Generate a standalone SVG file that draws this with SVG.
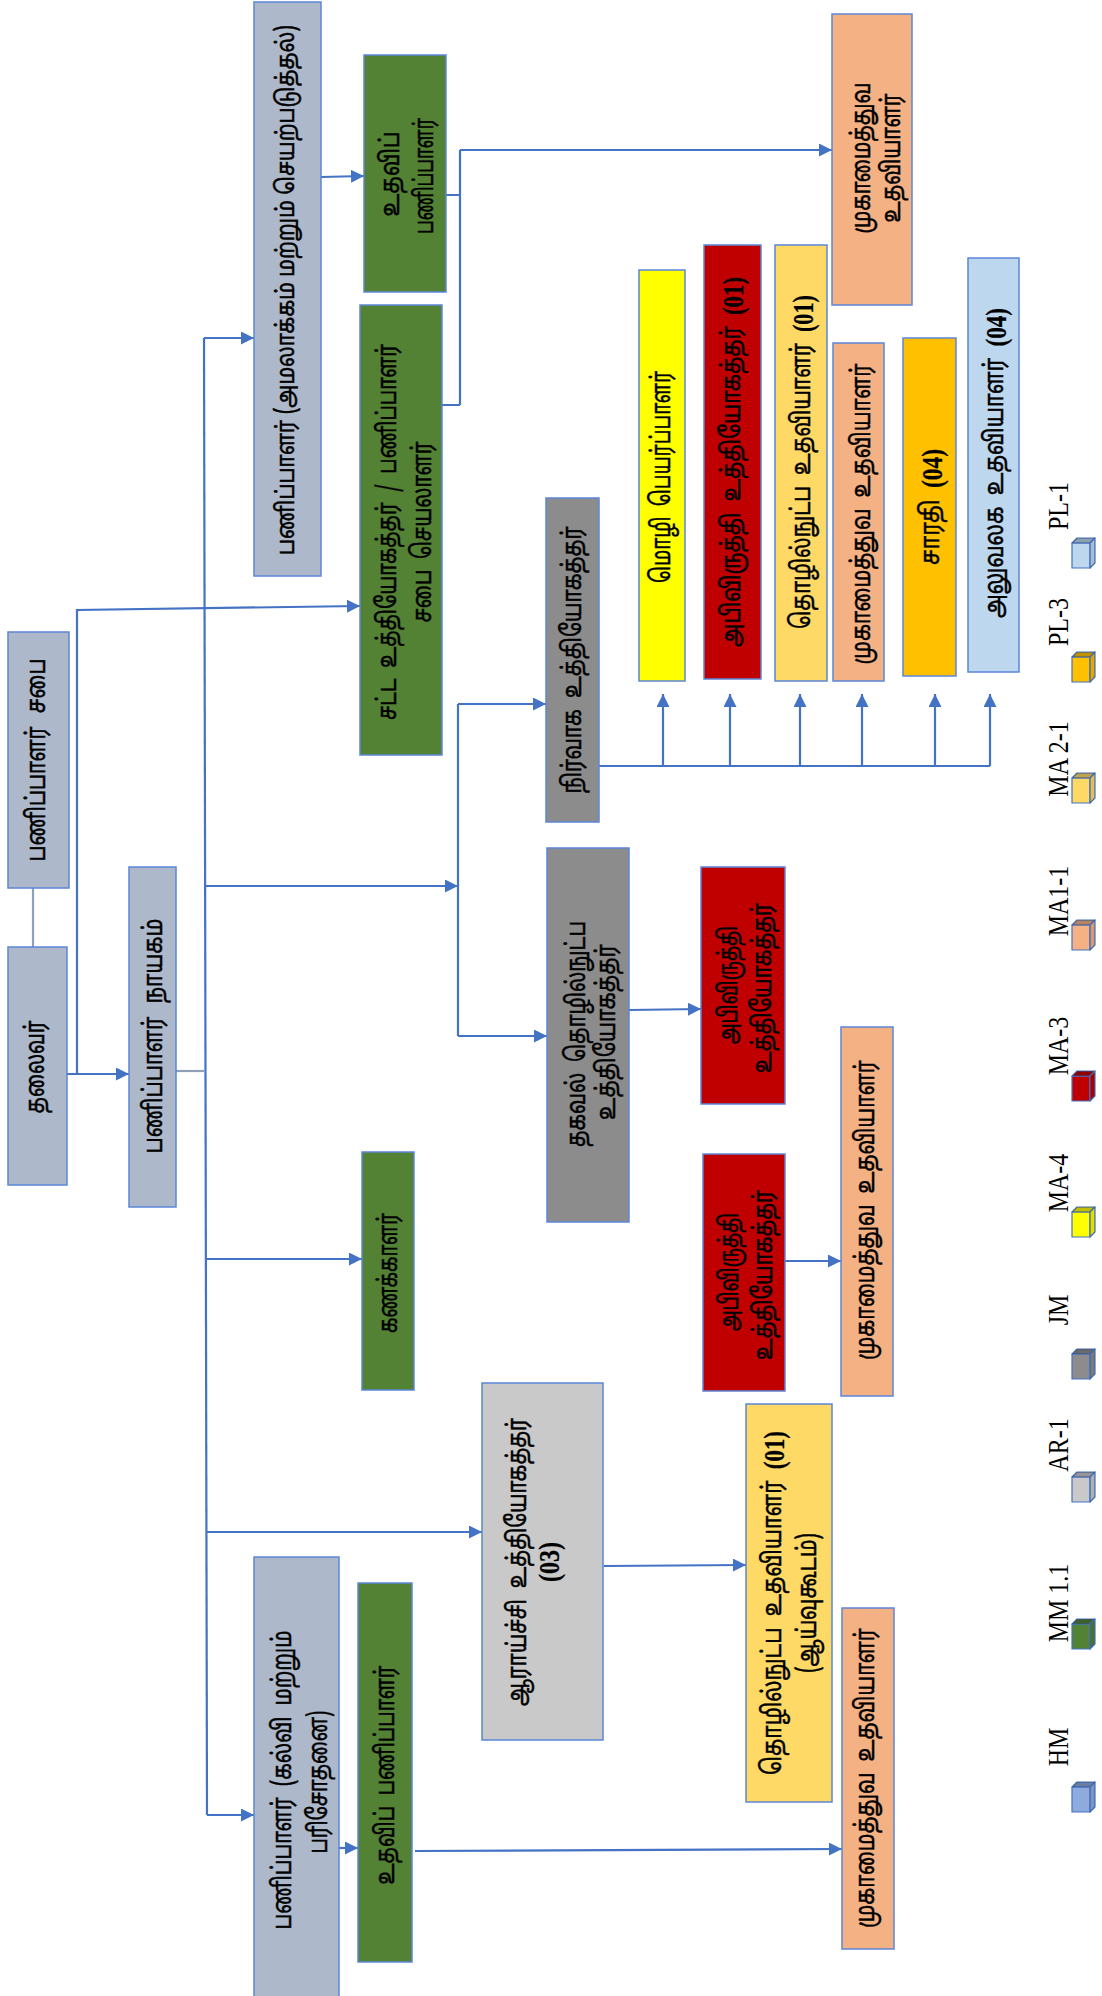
<svg xmlns="http://www.w3.org/2000/svg" width="1102" height="1996" viewBox="0 0 1102 1996">
<defs>
<marker id="ah" markerUnits="userSpaceOnUse" markerWidth="13" markerHeight="13" refX="13" refY="6.5" orient="auto" viewBox="0 0 13 13"><path d="M0,0 L13,6.5 L0,13 z" fill="#4472C4"/></marker>
<g id="cube" stroke="#4472C4" stroke-width="1.2" stroke-linejoin="round">
<rect x="0" y="5" width="18" height="25" fill="currentColor"/>
<path d="M0,5 L5,0 L23,0 L18,5 z" fill="currentColor"/>
<path d="M0,5 L5,0 L23,0 L18,5 z" fill="#000" fill-opacity="0.25" stroke="none"/>
<path d="M18,5 L23,0 L23,25 L18,30 z" fill="currentColor"/>
<path d="M18,5 L23,0 L23,25 L18,30 z" fill="#000" fill-opacity="0.12" stroke="none"/>
</g>
<style>
.box{stroke:#5B87D8;stroke-width:1.5}
.gb{fill:#ADB9CA}.gr{fill:#548235}.dg{fill:#8C8C8C}.lgr{fill:#C9C9C9}.rd{fill:#C00000}.or{fill:#F4B183}.ly{fill:#FFD966}.ye{fill:#FFFF00}.am{fill:#FFC000}.lb{fill:#BDD7EE}
.t{font-family:'Noto Sans Tamil','Latha','Noto Sans',sans-serif;font-size:22px;fill:#000;stroke:#000;stroke-width:0.4px;text-anchor:middle;dominant-baseline:central}
.n{font-family:'Liberation Serif',serif;font-weight:bold;font-size:24px;stroke-width:0.2px}
.c{fill:none;stroke:#4472C4;stroke-width:2.2}
.ca{marker-end:url(#ah)}
.cg{fill:none;stroke:#8EA0BA;stroke-width:2.2}
.leg{font-family:'Liberation Serif',serif;font-size:24px;fill:#000;text-anchor:middle;dominant-baseline:central}
</style>
</defs>
<rect width="1102" height="1996" fill="#fff"/>
<g id="connectors">
<path class="cg" d="M33,888 V947"/>
<path class="cg" d="M176,1071 H204"/>
<path class="c ca" d="M67,1074 H129"/>
<path class="c ca" d="M77,1074 V610 L360,606"/>
<path class="c" d="M204,338 L207,1815"/>
<path class="c ca" d="M204,338 H254"/>
<path class="c ca" d="M205,886 H458"/>
<path class="c" d="M458,704 V1036"/>
<path class="c ca" d="M458,704 H546"/>
<path class="c ca" d="M458,1036 H547"/>
<path class="c ca" d="M205,1259 H362"/>
<path class="c ca" d="M206,1532 H482"/>
<path class="c ca" d="M207,1815 H254"/>
<path class="c ca" d="M339,1848 H358"/>
<path class="c ca" d="M415,1851 L842,1849"/>
<path class="c ca" d="M321,177 L364,176"/>
<path class="c" d="M446,195 H460 M442,405 H460 M460,150 V405"/>
<path class="c ca" d="M460,150 H832"/>
<path class="c ca" d="M629,1010 L701,1009"/>
<path class="c ca" d="M785,1261 H841"/>
<path class="c ca" d="M604,1566 L746,1565"/>
<path class="c" d="M599,766 H990"/>
<path class="c ca" d="M663,766 V694"/>
<path class="c ca" d="M730,766 V694"/>
<path class="c ca" d="M800,766 V694"/>
<path class="c ca" d="M862,766 V694"/>
<path class="c ca" d="M935,766 V694"/>
<path class="c ca" d="M990,766 V694"/>
</g>
<g id="n1"><rect class="box gb" x="8" y="947" width="59" height="238"/><text class="t" transform="translate(37,1067) rotate(-90) scale(1,1.2)" textLength="93" lengthAdjust="spacingAndGlyphs">தலைவர்</text></g>
<g id="n2"><rect class="box gb" x="8" y="632" width="61" height="256"/><text class="t" transform="translate(38,760) rotate(-90) scale(1,1.2)" word-spacing="8" textLength="203" lengthAdjust="spacingAndGlyphs">பணிப்பாளர் சபை</text></g>
<g id="n3"><rect class="box gb" x="129" y="867" width="47" height="340"/><text class="t" transform="translate(155,1036) rotate(-90) scale(1,1.2)" word-spacing="8" textLength="235" lengthAdjust="spacingAndGlyphs">பணிப்பாளர் நாயகம்</text></g>
<g id="n4"><rect class="box gb" x="254" y="2" width="67" height="574"/><text class="t" transform="translate(287,290) rotate(-90) scale(1,1.2)" style="font-size:20.5px" textLength="530" lengthAdjust="spacingAndGlyphs">பணிப்பாளர் (அமலாக்கம் மற்றும் செயற்படுத்தல்)</text></g>
<g id="n5"><rect class="box gr" x="364" y="55" width="82" height="237"/><text class="t" transform="translate(392,174) rotate(-90) scale(1,1.2)" textLength="85" lengthAdjust="spacingAndGlyphs">உதவிப்</text><text class="t" transform="translate(426,176) rotate(-90) scale(1,1.2)" textLength="116" lengthAdjust="spacingAndGlyphs">பணிப்பாளர்</text></g>
<g id="n6"><rect class="box gr" x="360" y="305" width="82" height="450"/><text class="t" transform="translate(389,532) rotate(-90) scale(1,1.2)" word-spacing="6" textLength="376" lengthAdjust="spacingAndGlyphs">சட்ட உத்தியோகத்தர் / பணிப்பாளர்</text><text class="t" transform="translate(424,532) rotate(-90) scale(1,1.2)" word-spacing="6" textLength="181" lengthAdjust="spacingAndGlyphs">சபை செயலாளர்</text></g>
<g id="n7"><rect class="box gr" x="362" y="1152" width="52" height="238"/><text class="t" transform="translate(390,1273) rotate(-90) scale(1,1.2)" textLength="120" lengthAdjust="spacingAndGlyphs">கணக்காளர்</text></g>
<g id="n8"><rect class="box gb" x="254" y="1557" width="85" height="445"/><text class="t" transform="translate(284,1780) rotate(-90) scale(1,1.2)" word-spacing="6" textLength="299" lengthAdjust="spacingAndGlyphs">பணிப்பாளர் (கல்வி மற்றும்</text><text class="t" transform="translate(320,1782) rotate(-90) scale(1,1.2)" textLength="143" lengthAdjust="spacingAndGlyphs">பரிசோதனை)</text></g>
<g id="n9"><rect class="box gr" x="358" y="1583" width="54" height="379"/><text class="t" transform="translate(387,1775) rotate(-90) scale(1,1.2)" word-spacing="6" textLength="219" lengthAdjust="spacingAndGlyphs">உதவிப் பணிப்பாளர்</text></g>
<g id="n10"><rect class="box lgr" x="482" y="1383" width="121" height="357"/><text class="t" transform="translate(519,1562) rotate(-90) scale(1,1.2)" word-spacing="6" textLength="288" lengthAdjust="spacingAndGlyphs">ஆராய்ச்சி உத்தியோகத்தர்</text><text class="t n" transform="translate(549,1562) rotate(-90) scale(1,1.2)">(03)</text></g>
<g id="n11"><rect class="box dg" x="547" y="848" width="82" height="374"/><text class="t" transform="translate(578,1034) rotate(-90) scale(1,1.2)" word-spacing="6" textLength="226" lengthAdjust="spacingAndGlyphs">தகவல் தொழில்நுட்ப</text><text class="t" transform="translate(608,1032) rotate(-90) scale(1,1.2)" textLength="176" lengthAdjust="spacingAndGlyphs">உத்தியோகத்தர்</text></g>
<g id="n12"><rect class="box dg" x="546" y="498" width="53" height="324"/><text class="t" transform="translate(574,660) rotate(-90) scale(1,1.2)" word-spacing="6" textLength="267" lengthAdjust="spacingAndGlyphs">நிர்வாக உத்தியோகத்தர்</text></g>
<g id="n13"><rect class="box rd" x="701" y="867" width="84" height="237"/><text class="t" transform="translate(730,985) rotate(-90) scale(1,1.2)" textLength="118" lengthAdjust="spacingAndGlyphs">அபிவிருத்தி</text><text class="t" transform="translate(764,988) rotate(-90) scale(1,1.2)" textLength="170" lengthAdjust="spacingAndGlyphs">உத்தியோகத்தர்</text></g>
<g id="n14"><rect class="box rd" x="703" y="1154" width="82" height="237"/><text class="t" transform="translate(731,1272) rotate(-90) scale(1,1.2)" textLength="118" lengthAdjust="spacingAndGlyphs">அபிவிருத்தி</text><text class="t" transform="translate(765,1275) rotate(-90) scale(1,1.2)" textLength="170" lengthAdjust="spacingAndGlyphs">உத்தியோகத்தர்</text></g>
<g id="n15"><rect class="box or" x="841" y="1027" width="52" height="369"/><text class="t" transform="translate(867,1210) rotate(-90) scale(1,1.2)" word-spacing="6" textLength="300" lengthAdjust="spacingAndGlyphs">முகாமைத்துவ உதவியாளர்</text></g>
<g id="n16"><rect class="box ly" x="746" y="1404" width="86" height="398"/><text class="t" transform="translate(774,1603) rotate(-90) scale(1,1.2)" word-spacing="6" textLength="344" lengthAdjust="spacingAndGlyphs">தொழில்நுட்ப உதவியாளர் <tspan class="n">(01)</tspan></text><text class="t" transform="translate(809,1603) rotate(-90) scale(1,1.2)" textLength="140" lengthAdjust="spacingAndGlyphs">(ஆய்வுகூடம்)</text></g>
<g id="n17"><rect class="box or" x="842" y="1608" width="52" height="341"/><text class="t" transform="translate(867,1778) rotate(-90) scale(1,1.2)" word-spacing="6" textLength="300" lengthAdjust="spacingAndGlyphs">முகாமைத்துவ உதவியாளர்</text></g>
<g id="n18"><rect class="box ye" x="639" y="270" width="46" height="411"/><text class="t" transform="translate(663,477) rotate(-90) scale(1,1.2)" word-spacing="6" textLength="212" lengthAdjust="spacingAndGlyphs">மொழி பெயர்ப்பாளர்</text></g>
<g id="n19"><rect class="box rd" x="704" y="245" width="57" height="434"/><text class="t" transform="translate(733,462) rotate(-90) scale(1,1.2)" word-spacing="6" textLength="370" lengthAdjust="spacingAndGlyphs">அபிவிருத்தி உத்தியோகத்தர் <tspan class="n">(01)</tspan></text></g>
<g id="n20"><rect class="box ly" x="775" y="245" width="52" height="436"/><text class="t" transform="translate(803,462) rotate(-90) scale(1,1.2)" word-spacing="6" textLength="334" lengthAdjust="spacingAndGlyphs">தொழில்நுட்ப உதவியாளர் <tspan class="n">(01)</tspan></text></g>
<g id="n21"><rect class="box or" x="833" y="343" width="51" height="338"/><text class="t" transform="translate(863,514) rotate(-90) scale(1,1.2)" word-spacing="6" textLength="301" lengthAdjust="spacingAndGlyphs">முகாமைத்துவ உதவியாளர்</text></g>
<g id="n22"><rect class="box am" x="903" y="338" width="53" height="338"/><text class="t" transform="translate(932,507) rotate(-90) scale(1,1.2)" word-spacing="6" textLength="116" lengthAdjust="spacingAndGlyphs">சாரதி <tspan class="n">(04)</tspan></text></g>
<g id="n23"><rect class="box lb" x="968" y="258" width="51" height="414"/><text class="t" transform="translate(996,463) rotate(-90) scale(1,1.2)" word-spacing="6" textLength="310" lengthAdjust="spacingAndGlyphs">அலுவலக உதவியாளர் <tspan class="n">(04)</tspan></text></g>
<g id="n24"><rect class="box or" x="832" y="14" width="80" height="291"/><text class="t" transform="translate(863,158) rotate(-90) scale(1,1.2)" textLength="151" lengthAdjust="spacingAndGlyphs">முகாமைத்துவ</text><text class="t" transform="translate(893,158) rotate(-90) scale(1,1.2)" textLength="129" lengthAdjust="spacingAndGlyphs">உதவியாளர்</text></g>
<g id="legend">
<use href="#cube" x="1072" y="538" style="color:#BDD7EE"/><text class="leg" transform="translate(1058,506) rotate(-90) scale(1,1.2)">PL-1</text>
<use href="#cube" x="1072" y="652" style="color:#FFC000"/><text class="leg" transform="translate(1058,622) rotate(-90) scale(1,1.2)">PL-3</text>
<use href="#cube" x="1072" y="773" style="color:#FFD966"/><text class="leg" transform="translate(1058,759) rotate(-90) scale(1,1.2)">MA 2-1</text>
<use href="#cube" x="1072" y="920" style="color:#F4B183"/><text class="leg" transform="translate(1058,901) rotate(-90) scale(1,1.2)">MA1-1</text>
<use href="#cube" x="1072" y="1071" style="color:#C00000"/><text class="leg" transform="translate(1058,1046) rotate(-90) scale(1,1.2)">MA-3</text>
<use href="#cube" x="1072" y="1207" style="color:#FFFF00"/><text class="leg" transform="translate(1058,1183) rotate(-90) scale(1,1.2)">MA-4</text>
<use href="#cube" x="1072" y="1349" style="color:#8C8C8C"/><text class="leg" transform="translate(1058,1310) rotate(-90) scale(1,1.2)">JM</text>
<use href="#cube" x="1072" y="1472" style="color:#C9C9C9"/><text class="leg" transform="translate(1058,1445) rotate(-90) scale(1,1.2)">AR-1</text>
<use href="#cube" x="1072" y="1619" style="color:#548235"/><text class="leg" transform="translate(1058,1603) rotate(-90) scale(1,1.2)">MM 1.1</text>
<use href="#cube" x="1072" y="1782" style="color:#8FAADC"/><text class="leg" transform="translate(1058,1747) rotate(-90) scale(1,1.2)">HM</text>
</g>
</svg>
